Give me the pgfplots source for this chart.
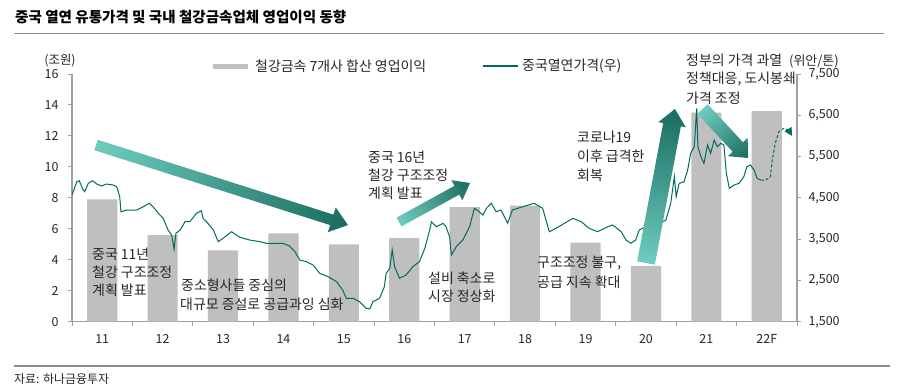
\documentclass[border=0pt]{standalone}
\usepackage{fontspec}
\setmainfont{Noto Sans CJK KR}
\usepackage{pgfplots}
\pgfplotsset{compat=1.18}
\usetikzlibrary{arrows.meta}
\definecolor{bargray}{HTML}{BFBFBF}
\definecolor{linecol}{HTML}{006B5E}
\definecolor{axgray}{HTML}{A0A0A0}
\definecolor{txt}{HTML}{262626}
\definecolor{tlight}{HTML}{6DCDBE}
\definecolor{tdark}{HTML}{1A6B60}
\definecolor{rulegray}{HTML}{8C8C8C}

\newcommand{\fatarrow}[7]{%
 \pgfmathsetmacro{\fadx}{#3-(#1)}%
 \pgfmathsetmacro{\fady}{#4-(#2)}%
 \pgfmathsetmacro{\faang}{atan2(-\fady,\fadx)}%
 \pgfmathsetmacro{\falen}{veclen(\fadx,\fady)}%
 \pgfmathsetmacro{\fab}{\falen-#7}%
 \pgfmathsetmacro{\fas}{#5/2}%
 \pgfmathsetmacro{\fah}{#6/2}%
 \begin{scope}[transform canvas={shift={(#1bp,-#2bp)},rotate=\faang}]
 \shade[left color=tlight,right color=tdark]
   (0bp,-\fas bp) -- (\fab bp,-\fas bp) -- (\fab bp,-\fah bp) -- (\falen bp,0bp)
   -- (\fab bp,\fah bp) -- (\fab bp,\fas bp) -- (0bp,\fas bp) -- cycle;
 \end{scope}}

\begin{document}
\begin{tikzpicture}
\begin{axis}[
  scale only axis, width=725bp, height=247.7bp,
  at={(72bp,-321.7bp)}, anchor=south west,
  xmin=-0.5, xmax=11.5, ymin=0, ymax=16,
  axis y line*=left, axis x line*=bottom,
  axis line style={-, draw=axgray, line width=1.2bp},
  ytick={0,2,...,16},
  xtick={-0.5,0.5,...,11.5}, xticklabel=\empty,
  extra x ticks={0,1,...,11},
  extra x tick labels={11,12,13,14,15,16,17,18,19,20,21,22F},
  extra x tick style={tick style={draw=none}},
  tick align=outside, major tick length=4bp,
  tick style={draw=axgray, line width=1bp},
  ticklabel style={font=\fontsize{12.5}{14}\selectfont, text=txt},
  yticklabel style={xshift=-6bp},
  xticklabel style={yshift=-5bp},
  /pgf/number format/assume math mode=true,
  scaled y ticks=false,
]
\addplot[ybar, bar width=0.5, fill=bargray, draw=none] coordinates {
(0,7.9) (1,5.6) (2,4.6) (3,5.7) (4,5.0) (5,5.4) (6,7.4) (7,7.5) (8,5.1) (9,3.6) (10,13.5) (11,13.6)};
\end{axis}
\begin{axis}[
  scale only axis, width=725bp, height=247.7bp,
  at={(72bp,-321.7bp)}, anchor=south west,
  xmin=-0.5, xmax=11.5, ymin=1500, ymax=7500,
  axis y line*=right, hide x axis,
  axis line style={-, draw=axgray, line width=1.2bp},
  ytick={1500,2500,...,7500},
  tick align=outside, major tick length=4bp,
  tick style={draw=axgray, line width=1bp},
  ticklabel style={font=\fontsize{12.5}{14}\selectfont, text=txt},
  yticklabel style={xshift=4bp},
  /pgf/number format/assume math mode=true,
  /pgf/number format/1000 sep={,},
  scaled y ticks=false,
]
\addplot[linecol, line width=1bp] coordinates {
(-0.50,4570) (-0.42,4890) (-0.38,4915) (-0.32,4707) (-0.29,4649) (-0.23,4852) (-0.16,4915) (-0.09,4835) (-0.01,4787) (0.07,4835) (0.18,4811) (0.24,4770) (0.29,4528) (0.31,4164) (0.40,4205) (0.57,4205) (0.68,4285) (0.78,4368) (0.84,4285) (0.93,4125) (1.01,4004) (1.09,3721) (1.15,3600) (1.19,3254) (1.22,3641) (1.29,3721) (1.37,3922) (1.45,3922) (1.56,4125) (1.64,4188) (1.67,4004) (1.75,3883) (1.84,3721) (1.92,3438) (2.00,3520) (2.14,3680) (2.28,3544) (2.44,3479) (2.61,3438) (2.72,3399) (2.83,3399) (2.99,3399) (3.10,3333) (3.19,3195) (3.27,2994) (3.38,2953) (3.49,2873) (3.60,2672) (3.74,2590) (3.88,2469) (3.98,2268) (4.04,2067) (4.15,2067) (4.26,1984) (4.37,1825) (4.43,1808) (4.48,1984) (4.59,2067) (4.67,2348) (4.70,2672) (4.76,2793) (4.80,3237) (4.84,2832) (4.92,2551) (5.03,2631) (5.14,2832) (5.25,2953) (5.34,3278) (5.42,3721) (5.45,3922) (5.53,3801) (5.64,3883) (5.69,3801) (5.75,3559) (5.78,3115) (5.86,3317) (5.97,3479) (6.08,3801) (6.16,4247) (6.24,4164) (6.30,4084) (6.36,4247) (6.44,4368) (6.52,4164) (6.60,4205) (6.71,3883) (6.79,4205) (6.96,4285) (7.15,4368) (7.29,4247) (7.40,3680) (7.51,3762) (7.65,3883) (7.79,4004) (7.93,3922) (8.06,3762) (8.20,3680) (8.37,3801) (8.45,3842) (8.59,3680) (8.67,3479) (8.75,3399) (8.83,3479) (8.89,3721) (9.05,3842) (9.22,3883) (9.33,3963) (9.41,4368) (9.47,5012) (9.50,4528) (9.55,4852) (9.63,4891) (9.69,5174) (9.74,5579) (9.80,5739) (9.84,6669) (9.86,5739) (9.91,5496) (9.96,5336) (10.02,5780) (10.07,5579) (10.13,5901) (10.18,5739) (10.24,5821) (10.29,5780) (10.33,5094) (10.38,4731) (10.46,4811) (10.54,4852) (10.62,5012) (10.67,5254) (10.73,5295) (10.79,5174) (10.84,4973) (10.90,4932)};
\addplot[linecol, line width=1bp, dash pattern=on 3bp off 2bp, -{Triangle[length=8bp,width=8bp]}] coordinates {
(10.90,4932) (10.98,4932) (11.06,5012) (11.09,5416) (11.14,5821) (11.20,6102) (11.28,6184) (11.36,6143) (11.42,6000)};
\end{axis}

\begin{scope}[x=1bp,y=-1bp]
% arrows
\fatarrow{96}{145}{348}{225}{11}{26}{17}
\fatarrow{399}{222}{470}{183}{10}{23}{15}
\fatarrow{646}{263}{675}{109}{18}{28}{16}
\fatarrow{702.5}{109}{748}{158}{14}{27}{15}
% title and rules
\node[anchor=west, inner sep=0pt, font=\bfseries\fontsize{14.6}{16}\selectfont, text=black] at (15,17.5) {중국 열연 유통가격 및 국내 철강금속업체 영업이익 동향};
\draw[rulegray, line width=1.6bp] (14,33.5) -- (884,33.5);
\draw[rulegray, line width=1.6bp] (14,366) -- (890,366);
\node[anchor=west, inner sep=0pt, font=\fontsize{12}{14}\selectfont, text=txt] at (14,379) {자료: 하나금융투자};
% axis units
\node[anchor=center, inner sep=0pt, font=\fontsize{12.5}{14}\selectfont, text=txt] at (60,61) {(조원)};
\node[anchor=west, inner sep=0pt, font=\fontsize{13}{14}\selectfont, text=txt] at (789,61) {(위안/톤)};
% legend
\fill[bargray] (213,63.5) rectangle (248,68.5);
\node[anchor=west, inner sep=0pt, font=\fontsize{14}{16}\selectfont, text=txt] at (255,66) {철강금속 7개사 합산 영업이익};
\draw[linecol, line width=1.2bp] (483,66) -- (518,66);
\node[anchor=west, inner sep=0pt, font=\fontsize{14}{16}\selectfont, text=txt] at (522,66) {중국열연가격(우)};
% annotations
\begin{scope}[every node/.style={anchor=west, inner sep=0pt, font=\fontsize{14}{16}\selectfont, text=txt}]
\node at (92,254) {중국 11년};
\node at (92,272) {철강 구조조정};
\node at (92,290) {계획 발표};
\node at (181,285.5) {중소형사들 중심의};
\node at (180,304.5) {대규모 증설로 공급과잉 심화};
\node at (368,157) {중국 16년};
\node at (368,175) {철강 구조조정};
\node at (368,193) {계획 발표};
\node at (428,278) {설비 축소로};
\node at (428,296.5) {시장 정상화};
\node at (537,263.5) {구조조정 불구,};
\node at (537,282) {공급 지속 확대};
\node at (577,137) {코로나19};
\node at (577,156.5) {이후 급격한};
\node at (577,175.5) {회복};
\node at (686,60) {정부의 가격 과열};
\node at (686,79) {정책대응, 도시봉쇄};
\node at (686,98) {가격 조정};
\end{scope}
\end{scope}
\pgfresetboundingbox
\path[use as bounding box] (0,0) rectangle (898bp,-392bp);
\end{tikzpicture}
\end{document}
